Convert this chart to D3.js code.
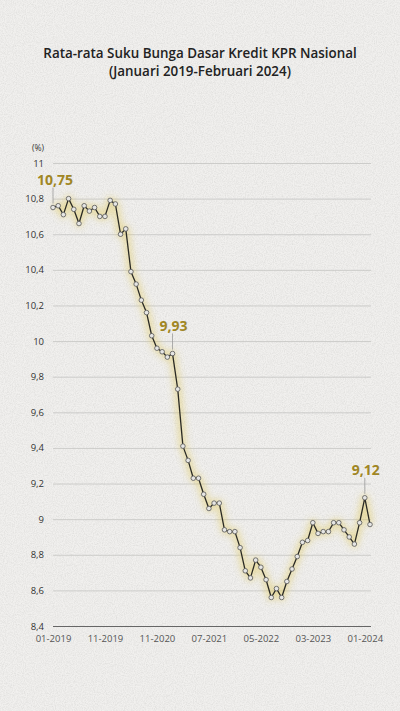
<!DOCTYPE html>
<html>
<head>
<meta charset="utf-8">
<script src="https://cdn.jsdelivr.net/npm/d3@7"></script>
<style>
  html, body { margin: 0; padding: 0; background: #f1f0ee; }
  svg { display: block; }
</style>
</head>
<body>
<svg id="chart"></svg>
<script>
// Monthly average KPR base lending rate, Jan 2019 - Feb 2024 (%)
const months = d3.timeMonth.range(new Date(2019, 0, 1), new Date(2024, 2, 1));
const rates = [
  10.75, 10.76, 10.71, 10.80, 10.74, 10.66, 10.76, 10.73, 10.75, 10.70,
  10.70, 10.79, 10.77, 10.60, 10.63, 10.39, 10.32, 10.23, 10.16, 10.03,
  9.96, 9.94, 9.91, 9.93, 9.73, 9.41, 9.33, 9.23, 9.23, 9.14,
  9.06, 9.09, 9.09, 8.94, 8.93, 8.93, 8.84, 8.71, 8.67, 8.77,
  8.73, 8.66, 8.56, 8.61, 8.56, 8.65, 8.72, 8.79, 8.87, 8.88,
  8.98, 8.92, 8.93, 8.93, 8.98, 8.98, 8.94, 8.90, 8.86, 8.98,
  9.12, 8.97
];
const yTicks = [8.4, 8.6, 8.8, 9, 9.2, 9.4, 9.6, 9.8, 10, 10.2, 10.4, 10.6, 10.8, 11];
const xTickIndex = [0, 10, 20, 30, 40, 50, 60];
const xTickLabels = ["01-2019", "11-2019", "11-2020", "07-2021", "05-2022", "03-2023", "01-2024"];
const highlightIndex = [0, 23, 60];
const highlightLabels = ["10,75", "9,93", "9,12"];
const titleLines = ["Rata-rata Suku Bunga Dasar Kredit KPR Nasional", "(Januari 2019-Februari 2024)"];

const width = 400;
const height = 711;
const marginLeft = 53;
const marginRight = 30;
const marginTop = 163;
const marginBottom = 85;

const comma = d3.formatLocale({decimal: ",", thousands: ".", grouping: [3], currency: ["", ""]}).format("~g");

const data = rates.map((v, i) => ({i, date: months[i], value: v}));

const x = d3.scalePoint(d3.range(rates.length), [marginLeft, width - marginRight]);
const y = d3.scaleLinear([8.4, 11], [height - marginBottom, marginTop]);

const svg = d3.select("#chart")
  .attr("width", width)
  .attr("height", height)
  .attr("viewBox", [0, 0, width, height]);

// paper texture
const defs = svg.append("defs");
const paper = defs.append("filter").attr("id", "paper").attr("x", 0).attr("y", 0).attr("width", "100%").attr("height", "100%");
paper.append("feTurbulence").attr("type", "fractalNoise").attr("baseFrequency", 0.9).attr("numOctaves", 3).attr("seed", 4);
paper.append("feColorMatrix").attr("type", "matrix")
  .attr("values", "0 0 0 0 0.45  0 0 0 0 0.45  0 0 0 0 0.44  0 0 0 -1.6 1.05");
const glow = defs.append("filter").attr("id", "glow").attr("x", "-20%").attr("y", "-20%").attr("width", "140%").attr("height", "140%");
glow.append("feGaussianBlur").attr("stdDeviation", 3.5);

svg.append("rect").attr("width", width).attr("height", height).attr("fill", "#f1f0ee");
svg.append("rect").attr("width", width).attr("height", height).attr("filter", "url(#paper)").attr("opacity", 0.3);

// title, two separate lines
svg.append("g")
  .selectAll("text")
  .data(titleLines)
  .join("text")
  .attr("x", width / 2)
  .attr("y", (_, i) => 57.5 + i * 18.5)
  .attr("text-anchor", "middle")
  .attr("font-family", "'Open Sans', sans-serif")
  .attr("font-weight", 600)
  .attr("font-size", 13.4)
  .attr("fill", "#222")
  .text(d => d);

// y axis with grid lines
svg.append("g")
  .attr("transform", `translate(${marginLeft},0)`)
  .call(d3.axisLeft(y).tickValues(yTicks).tickFormat(comma)
    .tickSize(-(width - marginRight - marginLeft + 1)).tickPadding(9))
  .call(g => g.select(".domain").remove())
  .call(g => g.selectAll(".tick line")
    .attr("stroke", d => d === 8.4 ? "#666" : "#c4c4c2")
    .attr("stroke-width", d => d === 8.4 ? 1.2 : 0.8))
  .call(g => g.selectAll(".tick text")
    .attr("fill", "#333")
    .attr("font-family", "'Open Sans', sans-serif")
    .attr("font-size", 9.5))
  .call(g => g.append("text")
    .attr("x", -9)
    .attr("y", y(11) - 12)
    .attr("fill", "#333")
    .attr("text-anchor", "end")
    .attr("font-family", "'Open Sans', sans-serif")
    .attr("font-size", 8.5)
    .text("(%)"));

// x axis
svg.append("g")
  .attr("transform", `translate(0,${height - marginBottom})`)
  .call(d3.axisBottom(x).tickValues(xTickIndex).tickFormat((d, i) => xTickLabels[i])
    .tickSize(0).tickPadding(9))
  .call(g => g.select(".domain").remove())
  .call(g => g.selectAll(".tick text")
    .attr("fill", "#555")
    .attr("font-family", "'Open Sans', sans-serif")
    .attr("font-size", 9.5));

const line = d3.line()
  .x(d => x(d.i))
  .y(d => y(d.value));

// yellow glow under the line
svg.append("path")
  .attr("fill", "none")
  .attr("stroke", "#e2c95a")
  .attr("stroke-width", 7)
  .attr("stroke-opacity", 0.5)
  .attr("stroke-linejoin", "round")
  .attr("filter", "url(#glow)")
  .attr("d", line(data));

svg.append("path")
  .attr("fill", "none")
  .attr("stroke", "#2a2a24")
  .attr("stroke-width", 1.3)
  .attr("stroke-linejoin", "round")
  .attr("d", line(data));

svg.append("g")
  .selectAll("circle")
  .data(data)
  .join("circle")
  .attr("cx", d => x(d.i))
  .attr("cy", d => y(d.value))
  .attr("r", 2.3)
  .attr("fill", "#e6e6e4")
  .attr("stroke", "#555")
  .attr("stroke-width", 0.8);

// highlighted values
const notes = svg.append("g")
  .selectAll("g")
  .data(highlightIndex)
  .join("g")
  .attr("transform", d => `translate(${x(d)},${y(rates[d])})`);

notes.append("line")
  .attr("y1", -4)
  .attr("y2", -20)
  .attr("stroke", "#999")
  .attr("stroke-width", 0.8);

notes.append("text")
  .attr("x", (d, i) => i === 0 ? 2 : 1)
  .attr("y", -23)
  .attr("text-anchor", "middle")
  .attr("font-family", "'Open Sans', sans-serif")
  .attr("font-weight", 700)
  .attr("font-size", 14)
  .attr("fill", "#a08624")
  .text((d, i) => highlightLabels[i]);
</script>
</body>
</html>
